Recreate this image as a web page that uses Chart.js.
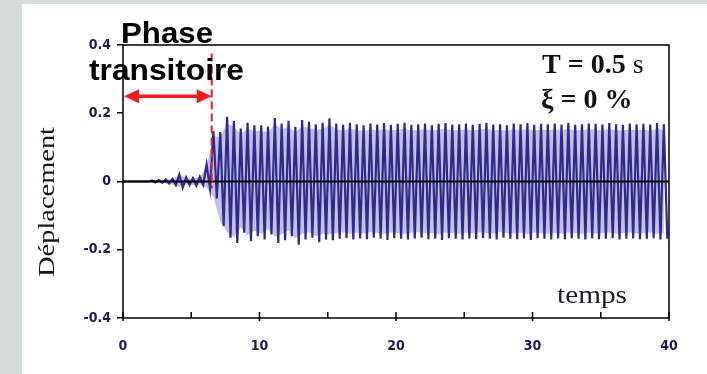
<!DOCTYPE html>
<html>
<head>
<meta charset="utf-8">
<script src="https://cdn.jsdelivr.net/npm/chart.js@4.4.1/dist/chart.umd.min.js"></script>
<style>
  html, body { margin: 0; padding: 0; background: #d5dcd9; }
  #wrap { width: 707px; height: 374px; position: relative; }
</style>
</head>
<body>
<div id="wrap"><canvas id="chart" width="707" height="374"></canvas></div>
<script>
// Period of the oscillator (T = 0.5 s), one upper and one lower peak per cycle.
var period = 0.5;

// Peak values, one per cycle (cycle k starts at k * period).
var upperPeaks = [
    0, 0, 0, 0, 0.003, 0.004, 0.006, 0.008, 0.02, 0.012,
    0.01, 0.014, 0.05, 0.148, 0.145, 0.19, 0.178, 0.155, 0.172, 0.165,
    0.165, 0.16, 0.186, 0.17, 0.178, 0.16, 0.18, 0.175, 0.168, 0.172,
    0.185, 0.17, 0.166, 0.172, 0.168, 0.165, 0.17, 0.167, 0.171, 0.166,
    0.169, 0.172, 0.166, 0.168, 0.17, 0.165, 0.169, 0.171, 0.167, 0.168,
    0.17, 0.166, 0.169, 0.172, 0.167, 0.168, 0.165, 0.17, 0.168, 0.171,
    0.166, 0.169, 0.168, 0.17, 0.167, 0.172, 0.166, 0.168, 0.17, 0.169,
    0.167, 0.171, 0.168, 0.166, 0.17, 0.168, 0.169, 0.167, 0.171, 0.168
];
var lowerPeaks = [
    0, 0, 0, 0, -0.003, -0.004, -0.006, -0.01, -0.018, -0.01,
    -0.012, -0.01, -0.02, -0.05, -0.13, -0.165, -0.18, -0.15, -0.175, -0.16,
    -0.17, -0.155, -0.18, -0.172, -0.16, -0.185, -0.17, -0.165, -0.178, -0.17,
    -0.172, -0.168, -0.166, -0.17, -0.167, -0.169, -0.165, -0.168, -0.171, -0.166,
    -0.168, -0.17, -0.167, -0.165, -0.169, -0.168, -0.171, -0.166, -0.168, -0.17,
    -0.167, -0.169, -0.166, -0.168, -0.17, -0.165, -0.168, -0.169, -0.167, -0.171,
    -0.166, -0.168, -0.17, -0.167, -0.169, -0.166, -0.168, -0.17, -0.167, -0.169,
    -0.168, -0.166, -0.17, -0.168, -0.167, -0.169, -0.168, -0.166, -0.17, -0.168
];

var xTicks = [0, 10, 20, 30, 40];
var yTicks = [-0.4, -0.2, 0, 0.2, 0.4];
var transitionEnd = 6.5;

// Build the time series from the peaks.
var points = [{ x: 0, y: 0 }];
var upperEnv = [{ x: 0, y: 0 }];
var lowerEnv = [{ x: 0, y: 0 }];
for (let k = 0; k < upperPeaks.length; k++) {
    points.push({ x: k * period + period / 4, y: upperPeaks[k] });
    points.push({ x: k * period + 3 * period / 4, y: lowerPeaks[k] });
    upperEnv.push({ x: k * period + period / 4, y: upperPeaks[k] * 0.9 });
    lowerEnv.push({ x: k * period + period / 4, y: lowerPeaks[k] * 0.9 });
}

// Draw a text squeezed or stretched to a given width.
function fitText(ctx, text, x, y, width) {
    var w = ctx.measureText(text).width;
    ctx.save();
    ctx.translate(x, y);
    ctx.scale(width / w, 1);
    ctx.fillText(text, 0, 0);
    ctx.restore();
}

var decor = {
    id: 'decor',
    beforeDraw: function (chart) {
        var ctx = chart.ctx;
        ctx.save();
        ctx.fillStyle = '#d5dcd9';
        ctx.fillRect(0, 0, chart.width, chart.height);
        ctx.fillStyle = '#ffffff';
        ctx.fillRect(22, 4, chart.width - 22, chart.height - 4);
        ctx.restore();
    },
    afterDatasetsDraw: function (chart) {
        var ctx = chart.ctx;
        var xs = chart.scales.x, ys = chart.scales.y;
        var a = chart.chartArea;
        ctx.save();
        // zero line
        ctx.strokeStyle = '#000';
        ctx.lineWidth = 2;
        ctx.beginPath();
        ctx.moveTo(a.left, ys.getPixelForValue(0));
        ctx.lineTo(a.right, ys.getPixelForValue(0));
        ctx.stroke();
        // box
        ctx.lineWidth = 1.5;
        ctx.strokeRect(a.left, a.top, a.right - a.left, a.bottom - a.top);
        // x ticks, inside
        for (let v = 0; v <= 40; v += 5) {
            var px = xs.getPixelForValue(v);
            ctx.beginPath();
            ctx.moveTo(px, a.bottom - 6);
            ctx.lineTo(px, a.bottom + (v % 10 === 0 ? 3 : 0));
            ctx.stroke();
        }
        // red dashed line at the end of the transient
        var xe = xs.getPixelForValue(transitionEnd);
        ctx.strokeStyle = '#ee1c24';
        ctx.lineWidth = 2;
        ctx.setLineDash([8, 4]);
        ctx.beginPath();
        ctx.moveTo(xe, ys.getPixelForValue(0.375));
        ctx.lineTo(xe, ys.getPixelForValue(-0.02));
        ctx.stroke();
        ctx.setLineDash([]);
        // double arrow
        var ya = ys.getPixelForValue(0.25);
        var x0 = xs.getPixelForValue(0) + 1;
        ctx.lineWidth = 3.5;
        ctx.beginPath();
        ctx.moveTo(x0 + 12, ya);
        ctx.lineTo(xe - 12, ya);
        ctx.stroke();
        ctx.fillStyle = '#ee1c24';
        ctx.beginPath();
        ctx.moveTo(x0, ya);
        ctx.lineTo(x0 + 15, ya - 7);
        ctx.lineTo(x0 + 15, ya + 7);
        ctx.closePath();
        ctx.fill();
        ctx.beginPath();
        ctx.moveTo(xe, ya);
        ctx.lineTo(xe - 15, ya - 7);
        ctx.lineTo(xe - 15, ya + 7);
        ctx.closePath();
        ctx.fill();
        ctx.restore();
    },
    afterDraw: function (chart) {
        var ctx = chart.ctx;
        ctx.save();
        ctx.fillStyle = '#000';
        ctx.textBaseline = 'alphabetic';
        ctx.font = 'bold 30px "Liberation Sans", Arial, sans-serif';
        ctx.textAlign = 'left';
        fitText(ctx, 'Phase', 121, 43, 92);
        fitText(ctx, 'transitoire', 89, 80, 155);

        ctx.fillStyle = '#111';
        ctx.font = 'bold 28px "Liberation Serif", "Times New Roman", serif';
        ctx.fillText('T = 0.5', 542, 73);
        var w = ctx.measureText('T = 0.5 ').width;
        ctx.font = '28px "Liberation Serif", "Times New Roman", serif';
        ctx.fillText('s', 542 + w, 73);
        ctx.font = 'bold 28px "Liberation Serif", "Times New Roman", serif';
        ctx.fillText('\u03BE = 0 %', 541, 108);

        ctx.font = '25px "Liberation Serif", "Times New Roman", serif';
        ctx.fillStyle = '#1a1a2a';
        fitText(ctx, 'temps', 557, 303, 70);

        // y axis title
        ctx.save();
        ctx.translate(54, 277);
        ctx.rotate(-Math.PI / 2);
        ctx.fillStyle = '#151520';
        ctx.font = '23px "Liberation Serif", "Times New Roman", serif';
        fitText(ctx, 'D\u00E9placement', 0, 0, 150);
        ctx.restore();
        ctx.restore();
    }
};

var tickFont = { family: '"DejaVu Sans Condensed", "DejaVu Sans", sans-serif', size: 14, weight: 'bold' };

var ctx = document.getElementById('chart').getContext('2d');
var chart = new Chart(ctx, {
    type: 'line',
    data: {
        datasets: [{
            // displacement signal
            data: points,
            borderColor: '#2e2a8e',
            borderWidth: 2.2,
            pointRadius: 0,
            tension: 0,
            fill: false,
            order: 0
        }, {
            // light haze between the peaks
            data: upperEnv,
            borderWidth: 0,
            pointRadius: 0,
            backgroundColor: 'rgba(125, 120, 195, 0.45)',
            fill: '+1',
            order: 1
        }, {
            data: lowerEnv,
            borderWidth: 0,
            pointRadius: 0,
            fill: false,
            order: 2
        }]
    },
    options: {
        responsive: false,
        animation: false,
        events: [],
        layout: { padding: { left: 0, top: 45, right: 38, bottom: 0 } },
        plugins: { legend: { display: false }, tooltip: { enabled: false } },
        scales: {
            x: {
                type: 'linear',
                min: 0,
                max: 40,
                afterFit: function (s) { s.height = 56; },
                afterBuildTicks: function (s) { s.ticks = xTicks.map(v => ({ value: v })); },
                grid: { display: false },
                border: { display: false },
                ticks: { padding: 12, color: '#1b1b4d', font: tickFont }
            },
            y: {
                min: -0.4,
                max: 0.4,
                afterFit: function (s) { s.width = 123; },
                afterBuildTicks: function (s) { s.ticks = yTicks.map(v => ({ value: v })); },
                grid: { drawOnChartArea: false, tickLength: 6, color: '#000', lineWidth: 1.5 },
                border: { display: false },
                ticks: {
                    padding: 6,
                    color: '#1b1b4d',
                    font: tickFont,
                    callback: function (v) { return Math.abs(v) < 1e-9 ? '0' : String(Math.round(v * 10) / 10); }
                }
            }
        }
    },
    plugins: [decor]
});
</script>
</body>
</html>
